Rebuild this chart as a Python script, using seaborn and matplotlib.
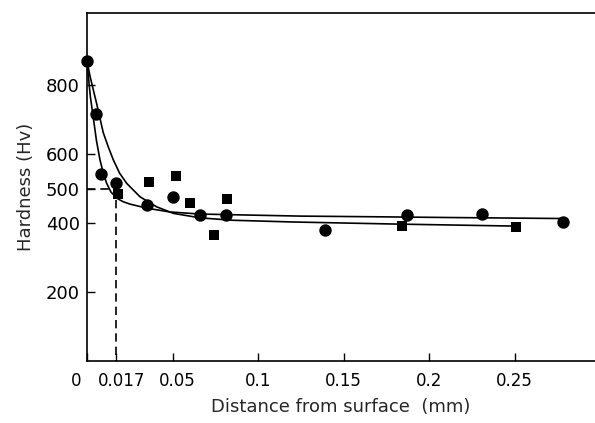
import numpy as np
import pandas as pd
import matplotlib
matplotlib.use("Agg")
import matplotlib.pyplot as plt
import matplotlib.transforms as mtransforms
import seaborn as sns

circle_x = [0.0, 0.005, 0.008, 0.017, 0.035, 0.050, 0.066, 0.081, 0.139, 0.187, 0.231, 0.278]
circle_y = [870, 716, 542, 515, 452, 475, 423, 423, 380, 423, 426, 403]

square_x = [0.018, 0.036, 0.052, 0.060, 0.074, 0.082, 0.184, 0.251]
square_y = [484, 519, 536, 458, 365, 470, 391, 388]

# fitted curves
curve_a_x = [0.0, 0.001, 0.002, 0.0037, 0.0055, 0.0076, 0.0095, 0.0115, 0.014, 0.0174,
             0.021, 0.025, 0.035, 0.0485, 0.066, 0.095, 0.125, 0.17, 0.21, 0.278]
curve_a_y = [870, 815, 765, 705, 640, 583, 545, 515, 490, 472,
             462, 455, 443, 432, 426, 423, 420, 418, 416, 413]

curve_b_x = [0.0, 0.0018, 0.0057, 0.0095, 0.0125, 0.0154, 0.019, 0.0232, 0.031, 0.0407,
             0.0505, 0.066, 0.085, 0.12, 0.18, 0.251]
curve_b_y = [870, 825, 745, 662, 620, 583, 545, 515, 476, 447,
             428, 415, 408, 403, 397, 391]

x_ticks = [0, 0.017, 0.05, 0.1, 0.15, 0.2, 0.25]
x_tick_labels = ["0", "0.017", "0.05", "0.1", "0.15", "0.2", "0.25"]
y_ticks = [200, 400, 500, 600, 800]

sns.set_style("ticks")
plt.rcParams["font.family"] = ["DejaVu Sans"]

fig = plt.figure(figsize=(5.95, 4.23), dpi=100)
ax = fig.add_axes([0.1462, 0.1466, 0.8538, 0.822])

curve_a = pd.DataFrame({"x": curve_a_x, "y": curve_a_y})
curve_b = pd.DataFrame({"x": curve_b_x, "y": curve_b_y})
sns.lineplot(data=curve_a, x="x", y="y", sort=False, estimator=None, color="black", lw=1.2, ax=ax)
sns.lineplot(data=curve_b, x="x", y="y", sort=False, estimator=None, color="black", lw=1.2, ax=ax)

sns.scatterplot(x=circle_x, y=circle_y, marker="o", s=80, color="black", edgecolor="black",
                linewidth=0, ax=ax, zorder=3, clip_on=False)
sns.scatterplot(x=square_x, y=square_y, marker="s", s=45, color="black", edgecolor="black",
                linewidth=0, ax=ax, zorder=3)

# guide lines at 500 Hv / 0.017 mm
ax.plot([0, 0.017, 0.017], [500, 500, 0], color="black", ls=(0, (5, 3)), lw=1.2)

ax.set_xlim(0, 0.297)
ax.set_ylim(0, 1008)
ax.set_xticks(x_ticks)
ax.set_xticklabels(x_tick_labels)
ax.set_yticks(y_ticks)
ax.tick_params(direction="in", length=6, width=1, labelsize=13, colors="black")
ax.tick_params(axis="x", pad=8, labelsize=12)
ax.tick_params(axis="y", pad=5)

# the first x labels are nudged apart in the original
labels = ax.get_xticklabels()
shifts = [-0.11, 0.05, 0.05]
for lab, dx in zip(labels, shifts):
    lab.set_transform(lab.get_transform() + mtransforms.ScaledTranslation(dx, 0, fig.dpi_scale_trans))

ax.set_xlabel("Distance from surface  (mm)", fontsize=13, labelpad=6)
ax.set_ylabel("Hardness (Hv)", fontsize=13, labelpad=8)

ax.spines["right"].set_visible(False)
for s in ["left", "bottom", "top"]:
    ax.spines[s].set_linewidth(1.2)
    ax.spines[s].set_color("black")

fig.savefig("out.png", dpi=100)
